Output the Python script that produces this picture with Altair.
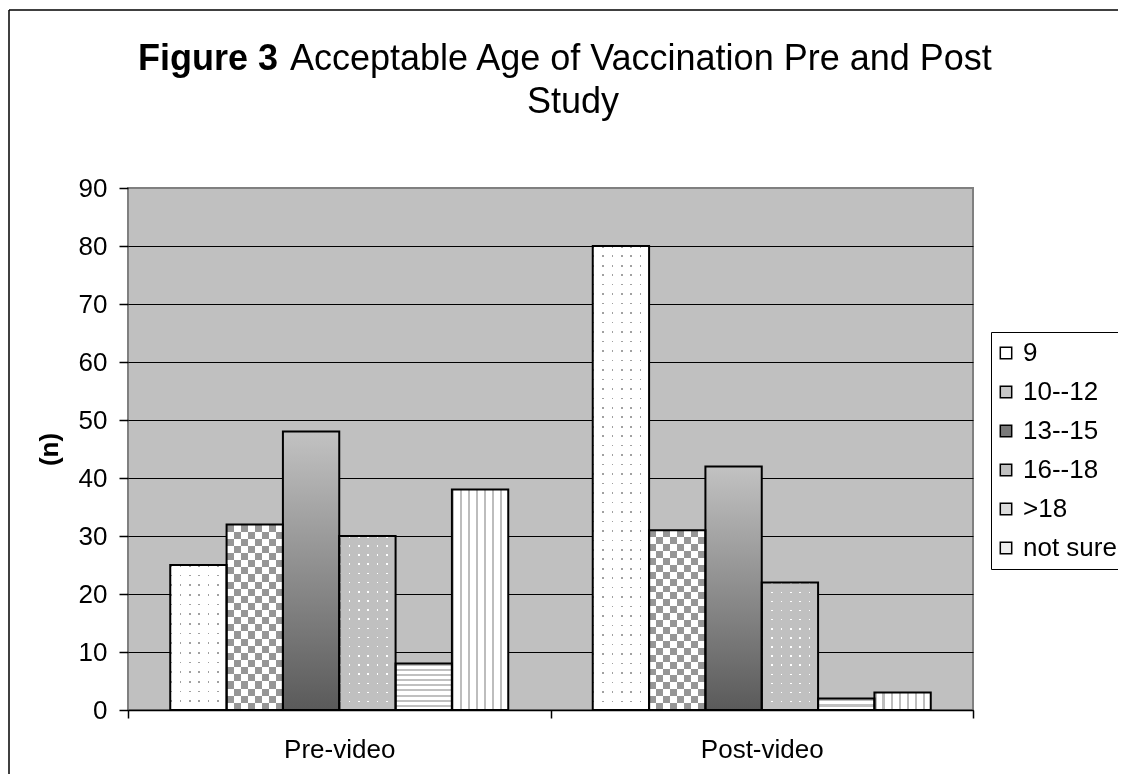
import altair as alt
import pandas as pd

# ---------------- data ----------------
groups = ["Pre-video", "Post-video"]
series = ["9", "10--12", "13--15", "16--18", ">18", "not sure"]
pre_values = [25, 32, 48, 30, 8, 38]
post_values = [80, 31, 42, 22, 2, 3]
y_ticks = [0, 10, 20, 30, 40, 50, 60, 70, 80, 90]
title_bold = ["Figure 3"]
title_rest = ["Acceptable Age of Vaccination Pre and Post"]
title_line2 = ["Study"]
y_title = "(n)"

rows = []
for g, vals in zip(groups, [pre_values, post_values]):
    for s, v in zip(series, vals):
        rows.append({"group": g, "series": s, "value": v})
df = pd.DataFrame(rows)

# ---------------- style ----------------
W, H = 845, 522
YMAX = 90
FONT = "Liberation Sans"
legend_colors = ["#ffffff", "#c8c8c8", "#7a7a7a", "#c0c0c0", "#dcdcdc", "#eeeeee"]


def px_height(v):
    return v / YMAX * H


def stripes(n, frac, dark, light, vertical_lines):
    n = max(int(n), 1)
    stops = []
    for k in range(n):
        a = k / n
        b = (k + frac) / n
        c = (k + 1) / n
        stops += [
            {"offset": round(a, 6), "color": dark},
            {"offset": round(b, 6), "color": dark},
            {"offset": round(b, 6), "color": light},
            {"offset": round(c, 6), "color": light},
        ]
    g = {"gradient": "linear", "stops": stops}
    if vertical_lines:
        g.update(x1=0, y1=0, x2=1, y2=0)
    else:
        g.update(x1=0, y1=0, x2=0, y2=1)
    return g


x_enc = alt.X(
    "group:N", sort=groups, title=None,
    scale=alt.Scale(domain=groups, paddingInner=0, paddingOuter=0),
    axis=alt.Axis(labelAngle=0, labelFontSize=26, labelColor="black", labelFont=FONT,
                  labelPadding=18, tickBand="extent", tickSize=8, tickColor="black",
                  tickWidth=1.5, domainColor="black", domainWidth=1.5, grid=False),
)
xoff_enc = alt.XOffset(
    "series:N", sort=series,
    scale=alt.Scale(domain=series, paddingInner=0, paddingOuter=0.75),
)
y_enc = alt.Y(
    "value:Q", title=y_title,
    scale=alt.Scale(domain=[0, YMAX], nice=False, zero=True),
    axis=alt.Axis(values=y_ticks, labelFontSize=26, labelColor="black", labelFont=FONT,
                  labelPadding=12, tickSize=9, tickColor="black", tickWidth=1.5,
                  domain=False, grid=True,
                  gridColor=alt.condition("datum.value === 90", alt.value("#808080"), alt.value("black")),
                  gridWidth=1, gridOpacity=1,
                  titleFontSize=26, titleFontWeight="bold", titleFont=FONT,
                  titleColor="black", titlePadding=16),
)


def bar_layer(expr, fill, blend=None):
    kw = dict(fill=fill, strokeWidth=0)
    if blend:
        kw["blend"] = blend
    return (alt.Chart(df).transform_filter(expr).mark_bar(**kw)
            .encode(x=x_enc, xOffset=xoff_enc, y=y_enc))


layers = []

# legend layer (plain colours underneath)
layers.append(
    alt.Chart(df).mark_bar(strokeWidth=0).encode(
        x=x_enc, xOffset=xoff_enc, y=y_enc,
        color=alt.Color("series:N", sort=series,
                        scale=alt.Scale(domain=series, range=legend_colors),
                        legend=alt.Legend(title=None, orient="none", legendX=863, legendY=144,
                                          fillColor="white", strokeColor="black", padding=8,
                                          labelFontSize=26, labelFont=FONT, labelColor="black",
                                          symbolType="square", symbolSize=130,
                                          symbolStrokeColor="black", symbolStrokeWidth=1.5,
                                          symbolOffset=-6,
                                          rowPadding=13, labelOffset=4)),
    )
)

vals_by = {}
for g, vals in zip(groups, [pre_values, post_values]):
    for s, v in zip(series, vals):
        vals_by[(g, s)] = v

for g in groups:
    # "9": white with gray dots
    s = "9"
    h = px_height(vals_by[(g, s)])
    ny = max(round(h / 9.4), 1)
    expr = f"datum.series === '{s}' && datum.group === '{g}'"
    layers.append(bar_layer(expr, stripes(6, 1.6 / 9.4, "#a0a0a0", "#ffffff", True)))
    layers.append(bar_layer(expr, stripes(ny, 1.6 / (h / ny), "#a0a0a0", "#ffffff", False), "lighten"))

    # "10--12": checkerboard
    s = "10--12"
    h = px_height(vals_by[(g, s)])
    ny = max(round(h / 14.08), 1)
    expr = f"datum.series === '{s}' && datum.group === '{g}'"
    layers.append(bar_layer(expr, stripes(4, 0.5, "#000000", "#ffffff", True)))
    layers.append(bar_layer(expr, stripes(ny, 0.5, "#000000", "#ffffff", False), "difference"))
    layers.append(bar_layer(expr, "#969696", "lighten"))

    # "16--18": gray with white dots
    s = "16--18"
    h = px_height(vals_by[(g, s)])
    ny = max(round(h / 9.4), 1)
    expr = f"datum.series === '{s}' && datum.group === '{g}'"
    layers.append(bar_layer(expr, stripes(6, 1.6 / 9.4, "#ffffff", "#c0c0c0", True)))
    layers.append(bar_layer(expr, stripes(ny, 1.6 / (h / ny), "#ffffff", "#c0c0c0", False), "darken"))

    # ">18": horizontal stripes
    s = ">18"
    h = px_height(vals_by[(g, s)])
    ny = max(round(h / 5), 1)
    expr = f"datum.series === '{s}' && datum.group === '{g}'"
    layers.append(bar_layer(expr, stripes(ny, 0.4, "#c0c0c0", "#ffffff", False)))

# "13--15": vertical gradient
layers.append(bar_layer("datum.series === '13--15'",
                        {"gradient": "linear", "x1": 0, "y1": 0, "x2": 0, "y2": 1,
                         "stops": [{"offset": 0, "color": "#c2c2c2"},
                                   {"offset": 1, "color": "#5a5a5a"}]}))
# "not sure": vertical stripes
layers.append(bar_layer("datum.series === 'not sure'",
                        stripes(7, 0.28, "#bdbdbd", "#ffffff", True)))

# outlines on top
layers.append(alt.Chart(df).mark_bar(fillOpacity=0, stroke="black", strokeWidth=2)
              .encode(x=x_enc, xOffset=xoff_enc, y=y_enc))

# title text (bold + regular)
layers.append(alt.Chart(pd.DataFrame({"t": title_bold})).mark_text(
    font=FONT, fontSize=36, fontWeight="bold", align="right", baseline="alphabetic", color="black"
).encode(text="t:N", x=alt.value(150), y=alt.value(-118)))
layers.append(alt.Chart(pd.DataFrame({"t": title_rest})).mark_text(
    font=FONT, fontSize=36, align="left", baseline="alphabetic", color="black"
).encode(text="t:N", x=alt.value(162), y=alt.value(-118)))
layers.append(alt.Chart(pd.DataFrame({"t": title_line2})).mark_text(
    font=FONT, fontSize=36, align="center", baseline="alphabetic", color="black"
).encode(text="t:N", x=alt.value(445), y=alt.value(-75)))

# outer frame (left and top edges)
frame = pd.DataFrame({"k": [0]})
layers.append(alt.Chart(frame).mark_rule(color="black", strokeWidth=1.5).encode(
    x=alt.value(-119), y=alt.value(-178), y2=alt.value(H + 100)))
layers.append(alt.Chart(frame).mark_rule(color="black", strokeWidth=1.5).encode(
    x=alt.value(-119), x2=alt.value(W + 200), y=alt.value(-178)))

chart = (
    alt.layer(*layers)
    .properties(width=W, height=H,
                padding={"left": 120, "top": 180, "right": 145, "bottom": 64},
                autosize=alt.AutoSizeParams(type="none"))
    .configure(font=FONT)
    .configure_view(fill="#c0c0c0", stroke="#808080", strokeWidth=2)
)

chart.save("out.html", embed_options={"renderer": "svg", "actions": False})
